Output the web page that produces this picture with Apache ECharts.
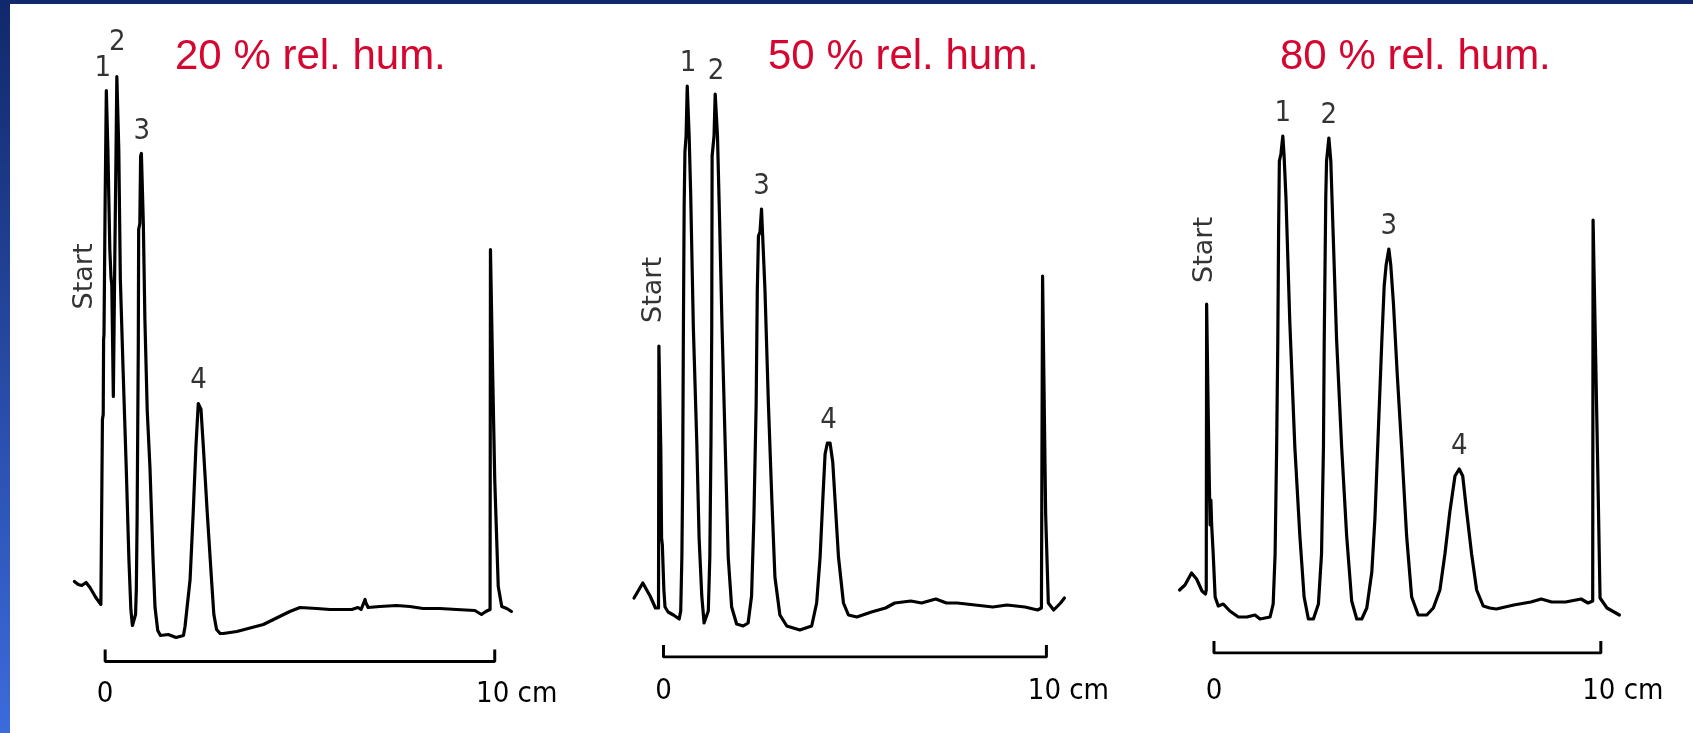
<!DOCTYPE html>
<html>
<head>
<meta charset="utf-8">
<title>Chromatograms at different relative humidity</title>
<script src="https://cdn.jsdelivr.net/npm/echarts@6/dist/echarts.min.js"></script>
<style>
  html, body { margin: 0; padding: 0; background: #fff; }
  #chart { width: 1693px; height: 733px; }
</style>
</head>
<body>
<div id="chart"></div>
<script>
// panel titles
const titles = ['20 % rel. hum.', '50 % rel. hum.', '80 % rel. hum.'];

// x = distance on the plate (cm), y = detector signal (arbitrary units)
const trace20 = [
  [-0.79, 80], [-0.69, 77], [-0.60, 76], [-0.49, 79], [-0.39, 74], [-0.24, 64], [-0.11, 57], [-0.07, 56],
  [-0.07, 242], [-0.05, 247], [-0.04, 322], [-0.03, 327], [0.00, 462], [0.03, 571], [0.05, 571], [0.07, 512],
  [0.12, 412], [0.15, 384], [0.17, 377], [0.21, 265], [0.23, 267], [0.25, 412], [0.28, 512], [0.30, 585],
  [0.33, 585], [0.35, 512], [0.39, 382], [0.46, 292], [0.54, 195], [0.61, 102], [0.66, 52], [0.70, 36],
  [0.74, 35], [0.78, 47], [0.80, 72], [0.82, 142], [0.85, 312], [0.86, 432], [0.89, 438], [0.91, 505],
  [0.93, 508], [0.95, 508], [0.98, 438], [1.02, 342], [1.08, 251], [1.15, 194], [1.23, 101], [1.28, 54],
  [1.35, 31], [1.42, 26], [1.62, 27], [1.82, 24], [2.01, 26], [2.05, 35], [2.18, 82], [2.26, 149],
  [2.33, 215], [2.39, 258], [2.42, 259], [2.46, 252], [2.52, 215], [2.62, 149], [2.73, 82], [2.79, 47],
  [2.86, 32], [2.95, 28], [3.03, 28], [3.38, 30], [4.06, 37], [4.74, 50], [5.00, 54], [5.43, 53],
  [5.77, 52], [6.11, 52], [6.33, 52], [6.49, 54], [6.57, 52], [6.64, 59], [6.67, 62], [6.69, 59],
  [6.75, 54], [7.05, 55], [7.48, 56], [7.82, 55], [8.16, 53], [8.59, 53], [9.02, 52], [9.49, 51],
  [9.66, 47], [9.77, 50], [9.88, 52], [9.89, 412], [9.92, 412], [9.95, 282], [10.00, 182], [10.09, 75],
  [10.18, 55], [10.31, 53], [10.43, 50]
];

const trace50 = [
  [-0.77, 59], [-0.54, 74], [-0.35, 61], [-0.21, 49], [-0.13, 49], [-0.12, 311], [-0.09, 311], [-0.07, 207],
  [-0.05, 119], [-0.03, 112], [0.01, 67], [0.04, 50], [0.12, 45], [0.26, 42], [0.41, 38], [0.45, 46],
  [0.48, 100], [0.50, 176], [0.52, 329], [0.54, 452], [0.56, 505], [0.59, 521], [0.62, 571], [0.66, 571],
  [0.67, 521], [0.71, 463], [0.78, 329], [0.87, 214], [0.93, 119], [1.00, 61], [1.06, 34], [1.11, 33],
  [1.17, 46], [1.21, 100], [1.24, 214], [1.26, 329], [1.27, 501], [1.32, 521], [1.35, 563], [1.39, 563],
  [1.41, 521], [1.46, 444], [1.53, 329], [1.61, 214], [1.69, 100], [1.78, 50], [1.91, 33], [2.08, 31],
  [2.21, 34], [2.30, 61], [2.36, 138], [2.42, 253], [2.45, 367], [2.48, 421], [2.52, 425], [2.56, 448],
  [2.59, 421], [2.65, 367], [2.74, 253], [2.83, 157], [2.91, 80], [3.04, 42], [3.22, 31], [3.56, 27],
  [3.87, 31], [4.00, 54], [4.09, 100], [4.16, 157], [4.22, 203], [4.28, 214], [4.35, 214], [4.42, 195],
  [4.48, 157], [4.57, 100], [4.70, 54], [4.83, 42], [5.05, 40], [5.43, 45], [5.80, 49], [6.04, 54],
  [6.46, 56], [6.74, 54], [7.11, 58], [7.39, 54], [7.67, 54], [8.14, 52], [8.60, 50], [8.97, 52],
  [9.44, 50], [9.77, 47], [9.87, 49], [9.90, 381], [9.92, 381], [9.98, 143], [10.05, 54], [10.19, 47],
  [10.37, 54], [10.47, 59]
];

const trace80 = [
  [-0.89, 63], [-0.75, 68], [-0.58, 80], [-0.45, 74], [-0.31, 62], [-0.22, 59], [-0.20, 63], [-0.19, 349],
  [-0.17, 349], [-0.15, 242], [-0.12, 170], [-0.10, 128], [-0.08, 153], [-0.06, 128], [-0.02, 99], [0.03, 56],
  [0.11, 47], [0.24, 49], [0.41, 42], [0.63, 36], [0.85, 36], [1.06, 38], [1.19, 34], [1.45, 36],
  [1.53, 49], [1.58, 99], [1.62, 206], [1.65, 313], [1.67, 420], [1.69, 492], [1.73, 499], [1.78, 517],
  [1.81, 499], [1.86, 456], [1.96, 331], [2.09, 206], [2.22, 117], [2.33, 56], [2.44, 34], [2.57, 34],
  [2.70, 49], [2.78, 99], [2.83, 206], [2.85, 313], [2.89, 456], [2.91, 492], [2.97, 515], [3.02, 492],
  [3.08, 420], [3.17, 313], [3.30, 206], [3.43, 117], [3.56, 52], [3.69, 34], [3.82, 34], [3.95, 45],
  [4.08, 81], [4.16, 134], [4.25, 224], [4.34, 313], [4.40, 367], [4.45, 388], [4.52, 404], [4.57, 388],
  [4.64, 349], [4.74, 277], [4.85, 206], [4.98, 117], [5.11, 56], [5.28, 38], [5.50, 38], [5.67, 45],
  [5.84, 63], [5.97, 99], [6.10, 142], [6.23, 177], [6.34, 184], [6.43, 177], [6.53, 142], [6.66, 99],
  [6.79, 63], [6.96, 47], [7.13, 45], [7.30, 44], [7.75, 48], [8.19, 51], [8.46, 54], [8.73, 51],
  [9.09, 51], [9.49, 54], [9.67, 50], [9.79, 52], [9.80, 433], [9.82, 433], [9.92, 186], [9.98, 55],
  [10.16, 45], [10.48, 38]
];

// numbered peaks (position, height)
const peakNames = ['1', '2', '3', '4'];
const peaks20 = [[0.04, 571], [0.31, 585], [0.94, 508], [2.40, 259]];
const peaks50 = [[0.64, 571], [1.37, 563], [2.56, 448], [4.31, 214]];
const peaks80 = [[1.78, 517], [2.97, 515], [4.52, 404], [6.34, 184]];

// "Start" marks
const start20 = [-0.52, 385];
const start50 = [-0.24, 367];
const start80 = [-0.22, 403];

// scale bar 0 .. 10 cm
const scaleEnds = [0, 10];
const scaleTick = 12;
const tickValues = [0, 10];
const tickLabels = ['0', '10 cm'];

const ink = '#000000';
const red = '#d5062f';
const narrow = "'Liberation Sans Narrow', 'DejaVu Sans Condensed', sans-serif";

const panels = [
    {title: titles[0], trace: trace20, peaks: peaks20, start: start20, left: 66.2, width: 467.5, base: 661.5, titleLeft: 175, margin: 18},
    {title: titles[1], trace: trace50, peaks: peaks50, start: start50, left: 625.2, width: 459.5, base: 657, titleLeft: 768, margin: 20},
    {title: titles[2], trace: trace80, peaks: peaks80, start: start80, left: 1175.3, width: 464.2, base: 653, titleLeft: 1280, margin: 24}
];

const grid = [], xAxis = [], yAxis = [], series = [], title = [];

panels.forEach((p, i) => {
    grid.push({left: p.left, width: p.width, top: 0, height: p.base});
    xAxis.push({
        type: 'value', gridIndex: i, min: -1, max: 11,
        axisLine: {show: false}, axisTick: {show: false}, splitLine: {show: false},
        axisLabel: {
            customValues: tickValues,
            margin: p.margin,
            formatter: v => v === tickValues[1] ? '{far|' + tickLabels[1] + '}' : '{near|' + tickLabels[0] + '}',
            rich: {
                near: {fontFamily: narrow, fontSize: 29, color: ink},
                far: {fontFamily: narrow, fontSize: 29, color: ink, padding: [0, 0, 0, 44]}
            }
        }
    });
    yAxis.push({type: 'value', gridIndex: i, min: 0, max: p.base, show: false});
    title.push({
        text: p.title, left: p.titleLeft, top: 36, padding: 0,
        textStyle: {fontFamily: "'Liberation Sans', Arial, sans-serif", fontSize: 42, fontWeight: 'normal', color: red}
    });

    series.push({
        type: 'line', xAxisIndex: i, yAxisIndex: i, data: p.trace,
        showSymbol: false, clip: false, silent: true,
        lineStyle: {color: ink, width: 3.2, join: 'round', cap: 'round'}
    });
    series.push({
        type: 'line', xAxisIndex: i, yAxisIndex: i, showSymbol: false, silent: true,
        data: [[scaleEnds[0], scaleTick], [scaleEnds[0], 0], [scaleEnds[1], 0], [scaleEnds[1], scaleTick]],
        lineStyle: {color: ink, width: 3}
    });
    series.push({
        type: 'scatter', xAxisIndex: i, yAxisIndex: i, symbolSize: 0, silent: true,
        data: p.peaks.map((pk, k) => {
            const d = {value: pk, name: peakNames[k]};
            if (i === 0 && k === 0) d.label = {offset: [-4, 0]};
            if (i === 0 && k === 1) d.label = {offset: [0, -12]};
            return d;
        }),
        label: {
            show: true, position: 'top', distance: 8, formatter: '{b}',
            fontFamily: narrow, fontSize: 29, color: ink
        }
    });
    series.push({
        type: 'scatter', xAxisIndex: i, yAxisIndex: i, symbolSize: 0, silent: true,
        data: [{value: p.start, name: 'Start'}],
        label: {
            show: true, position: 'inside', rotate: 90, formatter: '{b}',
            fontFamily: "'DejaVu Sans', sans-serif", fontSize: 27, color: ink
        }
    });
});

const chart = echarts.init(document.getElementById('chart'));
chart.setOption({
    backgroundColor: '#ffffff',
    animation: false,
    title: title,
    grid: grid,
    xAxis: xAxis,
    yAxis: yAxis,
    series: series,
    graphic: [
        {
            type: 'rect', left: 0, top: 0, shape: {width: 10, height: 733}, silent: true,
            style: {fill: new echarts.graphic.LinearGradient(0, 0, 0, 1, [
                {offset: 0, color: '#11286b'}, {offset: 1, color: '#3c6bdc'}
            ])}
        },
        {type: 'rect', left: 0, top: 0, shape: {width: 1693, height: 4}, silent: true, style: {fill: '#12296d'}}
    ]
});
</script>
</body>
</html>
